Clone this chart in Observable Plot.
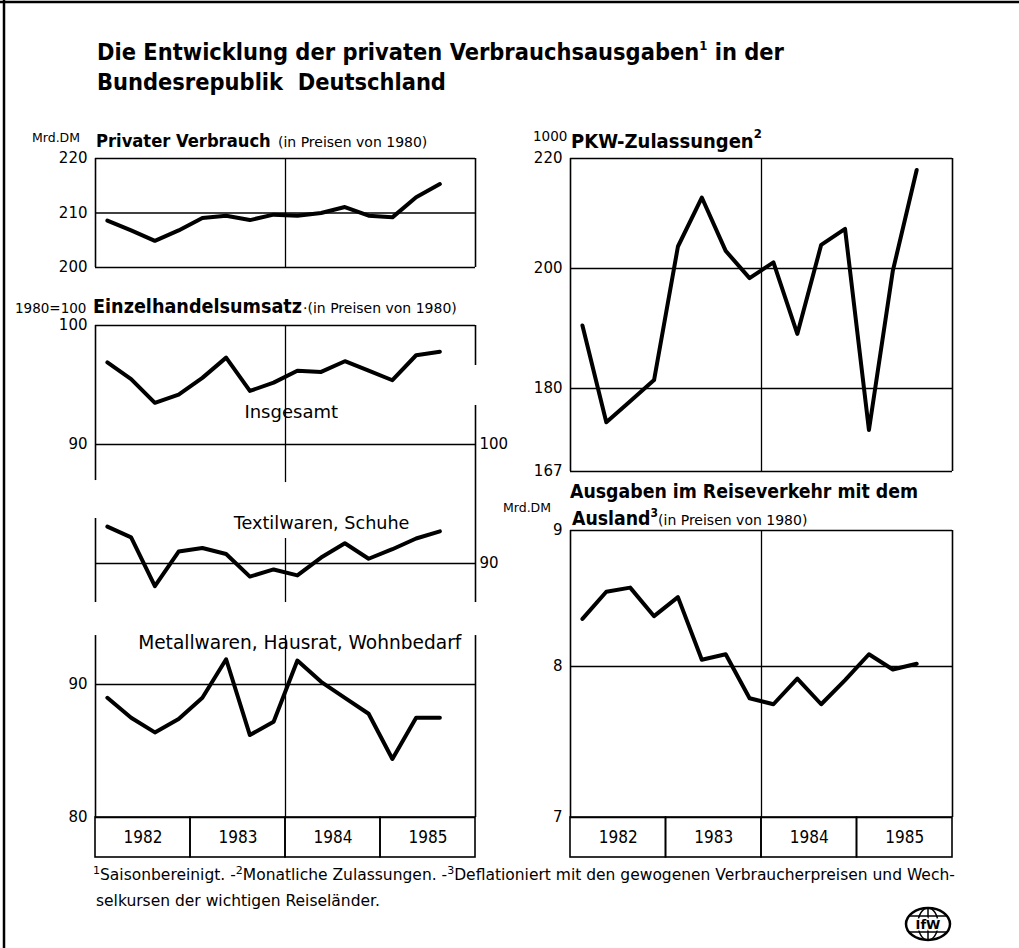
<!DOCTYPE html>
<html>
<head>
<meta charset="utf-8">
<script src="https://cdn.jsdelivr.net/npm/d3@7"></script>
<script src="https://cdn.jsdelivr.net/npm/@observablehq/plot@0.6"></script>
<style>
  html, body { margin: 0; padding: 0; background: #fff; }
  #page { position: relative; width: 1019px; height: 948px; overflow: hidden; background: #fff;
          font-family: "DejaVu Sans", sans-serif; }
  #page svg { position: absolute; overflow: visible; }
</style>
</head>
<body>
<div id="page"></div>
<script>
// ---------- data ----------
const periods = ["1982-1","1982-2","1982-3","1982-4","1983-1","1983-2","1983-3","1983-4",
                 "1984-1","1984-2","1984-3","1984-4","1985-1","1985-2","1985-3"];
const years = [1982, 1983, 1984, 1985];

// Privater Verbrauch, Mrd. DM (in Preisen von 1980)
const privaterVerbrauch = [208.6, 206.8, 204.9, 206.8, 209.1, 209.5, 208.7, 209.7, 209.5, 210.0, 211.1, 209.5, 209.2, 212.9, 215.3];
// Einzelhandelsumsatz, 1980 = 100
const einzelInsgesamt = [96.9, 95.5, 93.5, 94.2, 95.6, 97.3, 94.5, 95.2, 96.2, 96.1, 97.0, 96.2, 95.4, 97.5, 97.8];
const einzelTextil    = [93.1, 92.2, 88.1, 91.0, 91.3, 90.8, 88.9, 89.5, 89.0, 90.5, 91.7, 90.4, 91.2, 92.1, 92.7];
const einzelMetall    = [89.0, 87.5, 86.4, 87.4, 89.0, 91.9, 86.2, 87.2, 91.8, 90.2, 89.0, 87.8, 84.4, 87.5, 87.5];
// PKW-Zulassungen, 1000
const pkw = [190.5, 174.7, 178.0, 181.4, 204.0, 212.9, 203.2, 198.4, 201.1, 189.1, 204.3, 207.2, 173.5, 199.6, 217.9];
// Ausgaben im Reiseverkehr mit dem Ausland, Mrd. DM
const reise = [8.35, 8.55, 8.58, 8.37, 8.51, 8.05, 8.09, 7.79, 7.75, 7.92, 7.75, 7.91, 8.09, 7.98, 8.02];

// tick labels
const ticksPV = [200, 210, 220];
const ticksIns = [90, 100];
const ticksTex = [90, 100];
const ticksMet = [80, 90];
const ticksPKW = [167, 180, 200, 220];
const ticksReise = [7, 8, 9];

// ---------- helpers ----------
const page = document.getElementById("page");
const tpos = periods.map(p => { const [y, q] = p.split("-").map(Number); return y + (q - 0.5) / 4; });
const rows = s => s.map((v, i) => ({t: tpos[i], v}));
const REG = '"DejaVu Sans", sans-serif';
const COND = '"DejaVu Sans Condensed", "DejaVu Sans", sans-serif';
const style = {fontFamily: REG, color: "black", background: "transparent", overflow: "visible"};
const LW = 4, FW = 1.6, GW = 1.3;

function place(el, left, top) {
  el.style.left = left + "px";
  el.style.top = top + "px";
  page.appendChild(el);
}
function line(series) {
  return Plot.line(rows(series), {x: "t", y: "v", stroke: "black", strokeWidth: LW,
                                  strokeLinejoin: "round", strokeLinecap: "round"});
}
function axis(ticks, anchor = "left", pad = 8) {
  return Plot.axisY({ticks, anchor, label: null, tickSize: 0, tickPadding: pad, fontSize: 15,
                     fontFamily: REG, tickFormat: d => String(d)});
}
function label(txt, x, y, size = 18) {
  return Plot.text([txt], {x: () => x, y: () => y, text: d => d, fontSize: size, fontFamily: REG,
                           textAnchor: "middle", fill: "black"});
}
function leftPlot(top, height, y, marks) {
  place(Plot.plot({width: 520, height, marginLeft: 95, marginRight: 45, marginTop: 0, marginBottom: 0,
                   x: {domain: [1982, 1986], axis: null}, y: {type: "linear", axis: null, ...y}, style, marks}), 0, top);
}
function rightPlot(top, height, y, marks) {
  place(Plot.plot({width: 519, height, marginLeft: 70, marginRight: 67, marginTop: 0, marginBottom: 0,
                   x: {domain: [1982, 1986], axis: null}, y: {type: "linear", axis: null, ...y}, style, marks}), 500, top);
}
function yearBand(left, width, mL, mR) {
  place(Plot.plot({width, height: 55, marginLeft: mL, marginRight: mR, marginTop: 7, marginBottom: 8,
                   x: {domain: [1982, 1986], axis: null},
                   style: {...style, fontFamily: COND, fontStretch: "condensed"},
                   marks: [
                     Plot.rect(years, {x1: d => d, x2: d => d + 1, stroke: "black", strokeWidth: FW, fill: "none"}),
                     Plot.text(years, {x: d => d + 0.5, text: d => String(d), fontSize: 17, fontFamily: COND,
                                       frameAnchor: "middle", fill: "black"})
                   ]}), left, 810);
}

// ---------- left column ----------
// Privater Verbrauch (svg top 140)
leftPlot(140, 140, {domain: [200, 220], range: [127, 18]}, [
  Plot.ruleY([200, 220], {x1: 1982, x2: 1986, strokeWidth: FW}),
  Plot.ruleX([1982, 1986], {y1: 200, y2: 220, strokeWidth: FW}),
  Plot.ruleY([210], {x1: 1982, x2: 1986, strokeWidth: GW}),
  Plot.ruleX([1984], {y1: 200, y2: 220, strokeWidth: GW}),
  line(privaterVerbrauch),
  axis(ticksPV)
]);

// Einzelhandel – Insgesamt (svg top 310)
leftPlot(310, 180, {domain: [90, 100], range: [134, 15]}, [
  Plot.ruleY([100], {x1: 1982, x2: 1986, strokeWidth: FW}),
  Plot.ruleX([1982], {y1: 86.97, y2: 100, strokeWidth: FW}),
  Plot.ruleX([1986], {y1: 96.64, y2: 100, strokeWidth: FW}),
  Plot.ruleY([90], {x1: 1982, x2: 1986, strokeWidth: GW}),
  Plot.ruleX([1984], {y1: 86.8, y2: 100, strokeWidth: GW}),
  line(einzelInsgesamt),
  label("Insgesamt", 1984.06, 92.7, 18),
  axis(ticksIns)
]);

// Einzelhandel – Textilwaren, Schuhe (svg top 395, right-hand scale)
leftPlot(395, 215, {domain: [90, 100], range: [168, 49]}, [
  Plot.ruleX([1982], {y1: 86.72, y2: 93.78, strokeWidth: FW}),
  Plot.ruleX([1986], {y1: 86.72, y2: 103.28, strokeWidth: FW}),
  Plot.ruleY([90], {x1: 1982, x2: 1986, strokeWidth: GW}),
  Plot.ruleX([1984], {y1: 86.72, y2: 92.1, strokeWidth: GW}),
  line(einzelTextil),
  label("Textilwaren, Schuhe", 1984.38, 93.36, 17.6),
  axis(ticksTex, "right", 4)
]);

// Einzelhandel – Metallwaren, Hausrat, Wohnbedarf (svg top 625)
leftPlot(625, 200, {domain: [80, 90], range: [192, 59]}, [
  Plot.ruleX([1982, 1986], {y1: 80, y2: 93.68, strokeWidth: FW}),
  Plot.ruleY([80], {x1: 1982, x2: 1986, strokeWidth: FW}),
  Plot.ruleY([90], {x1: 1982, x2: 1986, strokeWidth: GW}),
  Plot.ruleX([1984], {y1: 80, y2: 93.68, strokeWidth: GW}),
  line(einzelMetall),
  label("Metallwaren, Hausrat, Wohnbedarf", 1984.15, 93.08, 18.6),
  axis(ticksMet)
]);
yearBand(0, 520, 95, 45);

// ---------- right column ----------
// PKW-Zulassungen (svg top 140)
rightPlot(140, 340, {domain: [167, 180, 200, 220], range: [331, 248, 128, 18]}, [
  Plot.ruleY([167, 220], {x1: 1982, x2: 1986, strokeWidth: FW}),
  Plot.ruleX([1982, 1986], {y1: 167, y2: 220, strokeWidth: FW}),
  Plot.ruleY([180, 200], {x1: 1982, x2: 1986, strokeWidth: GW}),
  Plot.ruleX([1984], {y1: 167, y2: 220, strokeWidth: GW}),
  line(pkw),
  axis(ticksPKW)
]);

// Reiseverkehr (svg top 520)
rightPlot(520, 300, {domain: [7, 8, 9], range: [297, 146, 10]}, [
  Plot.ruleY([7, 9], {x1: 1982, x2: 1986, strokeWidth: FW}),
  Plot.ruleX([1982, 1986], {y1: 7, y2: 9, strokeWidth: FW}),
  Plot.ruleY([8], {x1: 1982, x2: 1986, strokeWidth: GW}),
  Plot.ruleX([1984], {y1: 7, y2: 9, strokeWidth: GW}),
  line(reise),
  axis(ticksReise)
]);
yearBand(500, 519, 70, 67);

// ---------- titles, footnotes, border, logo (overlay) ----------
const ov = d3.create("svg").attr("width", 1019).attr("height", 948)
  .style("left", "0px").style("top", "0px").style("pointer-events", "none")
  .attr("font-family", REG);

ov.append("line").attr("x1", 0).attr("x2", 1019).attr("y1", 2).attr("y2", 2).attr("stroke", "black").attr("stroke-width", 2.5);
ov.append("line").attr("x1", 4).attr("x2", 4).attr("y1", 0).attr("y2", 948).attr("stroke", "black").attr("stroke-width", 2.5);

function txt(x, y, parts, size, weight = "normal", family = REG) {
  const t = ov.append("text").attr("x", x).attr("y", y).attr("font-size", size)
    .attr("font-weight", weight).attr("fill", "black").attr("xml:space", "preserve")
    .attr("font-family", family);
  if (family === COND) t.attr("font-stretch", "condensed");
  for (const p of parts) {
    if (typeof p === "string") t.append("tspan").text(p);
    else {
      const s = t.append("tspan").attr("font-size", p.size || size * 0.6).text(p.text);
      if (p.dy) s.attr("dy", p.dy);
      if (p.after) {
        const a = t.append("tspan").attr("dy", -p.dy).attr("font-size", p.afterSize || size)
          .attr("font-weight", p.afterWeight || weight).text(p.after);
        if (p.afterFamily) a.attr("font-family", p.afterFamily).attr("font-stretch", "normal");
      }
    }
  }
  return t;
}

txt(97, 60, ["Die Entwicklung der privaten Verbrauchsausgaben", {text: "1", dy: -10, size: 13, after: " in der"}], 23.4, "bold", COND);
txt(97, 90, ["Bundesrepublik\u00a0 Deutschland"], 23.4, "bold", COND);

txt(32, 142, ["Mrd.DM"], 12.5);
txt(96, 147, ["Privater Verbrauch"], 18.2, "bold", COND);
txt(278, 147, ["(in Preisen von 1980)"], 14);

txt(15, 313, ["1980=100"], 13.5);
txt(93, 313, ["Einzelhandelsumsatz"], 19.6, "bold", COND);
txt(303, 313, ["\u00b7(in Preisen von 1980)"], 14);

txt(533, 141, ["1000"], 13.5);
txt(571, 148, ["PKW-Zulassungen", {text: "2", dy: -10, size: 13}], 20, "bold", COND);

txt(570, 498, ["Ausgaben im Reiseverkehr mit dem"], 19.3, "bold", COND);
txt(572, 525, ["Ausland", {text: "3", dy: -8, size: 12,
               after: "(in Preisen von 1980)", afterSize: 14, afterWeight: "normal", afterFamily: REG}], 19.3, "bold", COND);
txt(503, 512, ["Mrd.DM"], 12.5);

txt(93, 880, [{text: "1", dy: -6, size: 11, after: "Saisonbereinigt. -", afterSize: 15.5},
              {text: "2", dy: -6, size: 11, after: "Monatliche Zulassungen. -", afterSize: 15.5},
              {text: "3", dy: -6, size: 11, after: "Deflationiert mit den gewogenen Verbraucherpreisen und Wech-", afterSize: 15.5}], 15.5);
txt(96, 906, ["selkursen der wichtigen Reiseländer."], 15.5);

// IfW logo
const lg = ov.append("g").attr("transform", "translate(928,924)").attr("fill", "none").attr("stroke", "black");
lg.append("ellipse").attr("rx", 22).attr("ry", 16).attr("stroke-width", 2.5).attr("fill", "white");
lg.append("ellipse").attr("rx", 10).attr("ry", 16).attr("stroke-width", 1.5);
lg.append("line").attr("x1", 0).attr("x2", 0).attr("y1", -16).attr("y2", 16).attr("stroke-width", 1.5);
lg.append("line").attr("x1", -20).attr("x2", 20).attr("y1", -8).attr("y2", -8).attr("stroke-width", 1.5);
lg.append("line").attr("x1", -20).attr("x2", 20).attr("y1", 8).attr("y2", 8).attr("stroke-width", 1.5);
lg.append("text").attr("text-anchor", "middle").attr("y", 4.5).attr("font-size", 13).attr("font-weight", "bold")
  .attr("fill", "black").attr("stroke", "white").attr("stroke-width", 3).attr("paint-order", "stroke").text("IfW");

page.appendChild(ov.node());
</script>
</body>
</html>
